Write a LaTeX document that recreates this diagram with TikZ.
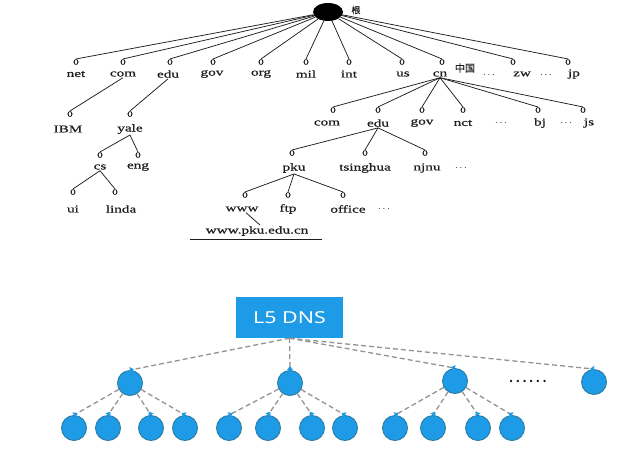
\documentclass[tikz,border=0pt]{standalone}
\usepackage{fontspec}
\setmainfont[FakeStretch=1.45,FakeBold=0.7]{Liberation Serif}
\newfontfamily\ofont[FakeBold=0.6]{Liberation Serif}
\newfontfamily\cjk[FakeBold=0.7]{Noto Sans CJK SC}
\newfontfamily\cjkplain{Noto Sans CJK SC}
\newfontfamily\dnsfont[FakeStretch=1.3]{Noto Sans}
\usetikzlibrary{shapes.geometric,arrows.meta}
\definecolor{dnsblue}{RGB}{30,155,230}
\definecolor{dnsedge}{RGB}{45,125,160}
\definecolor{ink}{RGB}{30,30,30}
\begin{document}
\begin{tikzpicture}[x=1pt,y=-1pt,
  o/.style={font=\ofont\fontsize{11}{11}\selectfont, inner sep=0.2pt, text=ink},
  lab/.style={font=\fontsize{10.5}{10.5}\selectfont, inner sep=1pt, text=ink},
  dotlab/.style={font=\fontsize{10}{10}\selectfont, inner sep=0pt, text=ink},
  br/.style={draw=ink, line width=0.75pt},
  dn/.style={circle, fill=dnsblue, draw=dnsedge, line width=0.9pt, minimum size=25pt, inner sep=0pt},
  dl/.style={draw=gray!85, dash pattern=on 5pt off 3pt, line width=1.3pt,
     -{Triangle[reversed,length=4pt,width=6pt,color=dnsblue,fill=dnsblue]}}]
\useasboundingbox (0,0) rectangle (623,451);

% ---------- upper tree ----------
\node[ellipse, fill=black, minimum width=30pt, minimum height=18pt, inner sep=0pt] (root) at (328,12) {};
\node[font=\cjk\fontsize{9}{9}\selectfont, text=ink] (gen) at (356,10) {根};

\foreach \n/\x/\lx in {net/76/76, com/123/123, edu/170/168, gov/213/212, org/261/261, mil/306/306, int/349/349, us/402/403, cn/442/440, zw/513/522, jp/568/574}{
  \node[o] (o-\n) at (\x,62) {o};
  \node[lab] (l-\n) at (\lx,74) {\n};
  \draw[br] (root) -- (o-\n.north);
}
\node[font=\cjk\fontsize{10}{10}\selectfont, text=ink] (zhongguo) at (465,68) {中国};
\node[dotlab] (d1) at (489,75) {$\cdots$};
\node[dotlab] (d2) at (546,75) {$\cdots$};

% children of cn
\foreach \n/\t/\x/\lx in {ccom/com/333/327, cedu/edu/378/378, cgov/gov/422/422, cnct/nct/463/463, cbj/bj/538/540, cjs/js/583/589}{
  \node[o] (o-\n) at (\x,110) {o};
  \node[lab] (l-\n) at (\lx,123) {\t};
  \draw[br] (l-cn.south) -- (o-\n.north);
}
\node[dotlab] (d3) at (501,123) {$\cdots$};
\node[dotlab] (d4) at (566,123) {$\cdots$};

% children of com and edu
\node[o] (o-ibm) at (70,114) {o};
\node[lab] (l-ibm) at (68,129) {IBM};
\draw[br] (l-com.south) -- (o-ibm.north);
\node[o] (o-yale) at (130,114) {o};
\node[lab] (l-yale) at (130,129) {yale};
\draw[br] (l-edu.south) -- (o-yale.north);

\node[o] (o-cs) at (100,155) {o};
\node[lab] (l-cs) at (100,167) {cs};
\node[o] (o-eng) at (138,155) {o};
\node[lab] (l-eng) at (138,167) {eng};
\draw[br] (l-yale.south) -- (o-cs.north);
\draw[br] (l-yale.south) -- (o-eng.north);

\node[o] (o-ui) at (73,192) {o};
\node[lab] (l-ui) at (73,209) {ui};
\node[o] (o-linda) at (115,192) {o};
\node[lab] (l-linda) at (121,209) {linda};
\draw[br] (l-cs.south) -- (o-ui.north);
\draw[br] (l-cs.south) -- (o-linda.north);

% children of cn.edu
\foreach \n/\x/\lx in {pku/292/294, tsinghua/365/365, njnu/425/427}{
  \node[o] (o-\n) at (\x,153) {o};
  \node[lab] (l-\n) at (\lx,168) {\n};
  \draw[br] (l-cedu.south) -- (o-\n.north);
}
\node[dotlab] (d5) at (461,168) {$\cdots$};

% children of pku
\foreach \n/\x/\lx in {www/245/242, ftp/288/288, office/343/348}{
  \node[o] (o-\n) at (\x,195) {o};
  \node[lab] (l-\n) at (\lx,209) {\n};
  \draw[br] (l-pku.south) -- (o-\n.north);
}
\node[dotlab] (d6) at (384,209) {$\cdots$};

\node[lab] (url) at (257,231) {www.pku.edu.cn};
\draw[br] ([xshift=4pt]l-www.south) -- ([xshift=3pt]url.north);
\coordinate (ul1) at (190,239);
\coordinate (ul2) at (322,239);
\draw[draw=ink, line width=1pt] (ul1) -- (ul2);

% ---------- lower tree ----------
\node[fill=dnsblue, minimum width=107pt, minimum height=41pt, inner sep=0pt,
      text=white, font=\dnsfont\fontsize{16.5}{16.5}\selectfont] (dns) at (289.5,317.5) {L5 DNS};

\node[dn] (a) at (130,383) {};
\node[dn] (b) at (290,383) {};
\node[dn] (c) at (455,381) {};
\node[dn] (d) at (594,382) {};
\node[font=\cjkplain\fontsize{18}{18}\selectfont, text=ink] (more) at (528,381) {……};

\foreach \p in {a,b,c,d}{ \draw[dl] (dns.south) -- (\p.north); }

\foreach \n/\x/\p in {a1/74/a, a2/108/a, a3/151/a, a4/185/a,
                      b1/229/b, b2/268/b, b3/312/b, b4/345/b,
                      c1/395/c, c2/433/c, c3/478/c, c4/512/c}{
  \node[dn] (\n) at (\x,428) {};
  \draw[dl] (\p) -- (\n.north);
}
\end{tikzpicture}
\end{document}
